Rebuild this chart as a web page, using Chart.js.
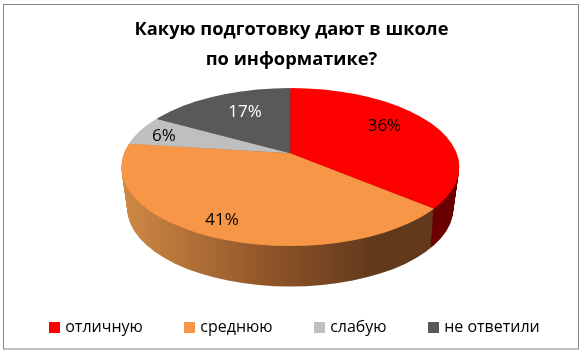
<!DOCTYPE html>
<html>
<head>
<meta charset="utf-8">
<script src="https://cdn.jsdelivr.net/npm/chart.js@4"></script>
<style>
  html, body { margin: 0; padding: 0; background: #fff; }
  #wrap { position: relative; width: 583px; height: 352px; }
</style>
</head>
<body>
<div id="wrap"><canvas id="pie" width="583" height="352"></canvas></div>
<script>
const categories = ['отличную', 'среднюю', 'слабую', 'не ответили'];
const values = [36, 41, 6, 17];
const sliceColors = ['#ff0000', '#f79646', '#bfbfbf', '#595959'];
const labelColors = ['#000000', '#000000', '#000000', '#ffffff'];
const titleLines = ['Какую подготовку дают в школе', 'по информатике?'];

// геометрия "3D" круга
const top3d = { cx: 290.3, cy: 167, rx: 169, ry: 79 };
const bottom3d = { cx: 290.3, cy: 208.5, rx: 163, ry: 78 };
const apexY = 153.3;
const squash = 0.467;
const depth = 40;
// подписи: расстояние от центра и сдвиг по вертикали
const labelDist = [104, 172, 133, 89];
const labelShift = [-6, -7, 2, -5.5];

function wallFill(ctx, index) {
  if (index === 0) return '#6b0000';
  const g = ctx.createLinearGradient(top3d.cx - top3d.rx, 0, top3d.cx + top3d.rx, 0);
  g.addColorStop(0, '#d08a45');
  g.addColorStop(0.4, '#95592b');
  g.addColorStop(0.75, '#63391c');
  g.addColorStop(1, '#63391c');
  return g;
}

function enterPie(ctx, arc, e, dy) {
  ctx.beginPath();
  ctx.ellipse(e.cx, e.cy, e.rx, e.ry, 0, 0, Math.PI * 2);
  ctx.clip();
  ctx.translate(top3d.cx - arc.x, apexY + dy - arc.y * squash);
  ctx.scale(1, squash);
}

// квадратик легенды; ширина pointStyleWidth меньше картинки, чтобы текст стоял ближе
function swatch(color) {
  const c = document.createElement('canvas');
  c.width = 11;
  c.height = 11;
  const g = c.getContext('2d');
  g.fillStyle = color;
  g.fillRect(0, 0, 11, 11);
  return c;
}

const pie3d = {
  id: 'pie3d',
  beforeDatasetDraw(chart) {
    const ctx = chart.ctx;
    const arcs = chart.getDatasetMeta(0).data;
    // боковая стенка: те же сегменты, сдвинутые вниз слоями
    for (let d = depth; d > 0; d--) {
      const t = d / depth;
      const e = {
        cx: top3d.cx,
        cy: top3d.cy + (bottom3d.cy - top3d.cy) * t,
        rx: top3d.rx + (bottom3d.rx - top3d.rx) * t,
        ry: top3d.ry + (bottom3d.ry - top3d.ry) * t
      };
      arcs.forEach((arc, i) => {
        const saved = arc.options.backgroundColor;
        ctx.save();
        enterPie(ctx, arc, e, d);
        arc.options.backgroundColor = wallFill(ctx, i);
        arc.draw(ctx);
        arc.options.backgroundColor = saved;
        ctx.restore();
      });
    }
    ctx.save();
    enterPie(ctx, arcs[0], top3d, 0);
  },
  afterDatasetDraw(chart) {
    chart.ctx.restore();
  }
};

const sliceLabels = {
  id: 'sliceLabels',
  afterDatasetsDraw(chart) {
    const ctx = chart.ctx;
    const arcs = chart.getDatasetMeta(0).data;
    ctx.save();
    ctx.font = '17px "Open Sans", sans-serif';
    ctx.textAlign = 'center';
    ctx.textBaseline = 'middle';
    arcs.forEach((arc, i) => {
      const mid = (arc.startAngle + arc.endAngle) / 2;
      ctx.fillStyle = labelColors[i];
      ctx.fillText(values[i] + '%',
        top3d.cx + Math.cos(mid) * labelDist[i],
        apexY + labelShift[i] + Math.sin(mid) * labelDist[i] * squash);
    });
    ctx.restore();
  }
};

const frame = {
  id: 'frame',
  beforeDraw(chart) {
    const ctx = chart.ctx;
    ctx.save();
    ctx.strokeStyle = '#868686';
    ctx.lineWidth = 1;
    ctx.strokeRect(3.5, 4.5, 575, 344.5);
    ctx.restore();
  },
  afterLayout(chart) {
    // легенда в оригинале чуть правее центра
    chart.legend.left += 4;
    chart.legend.right += 4;
  }
};

new Chart(document.getElementById('pie'), {
  type: 'pie',
  data: {
    labels: categories,
    datasets: [{
      data: values,
      backgroundColor: sliceColors,
      borderWidth: 0,
      radius: 240,
      clip: false
    }]
  },
  options: {
    responsive: false,
    animation: false,
    layout: { padding: { bottom: 7 } },
    plugins: {
      title: {
        display: true,
        text: titleLines,
        color: '#000',
        font: { family: '"Open Sans", sans-serif', size: 18.3, weight: 'bold', lineHeight: 1.62 },
        padding: { top: 15, bottom: 0 }
      },
      legend: {
        position: 'bottom',
        labels: {
          usePointStyle: true,
          pointStyleWidth: 6,
          boxHeight: 11,
          padding: 43.5,
          color: '#000',
          font: { family: '"Open Sans", sans-serif', size: 16 },
          generateLabels(chart) {
            return categories.map((text, i) => ({
              text,
              index: i,
              fillStyle: sliceColors[i],
              strokeStyle: sliceColors[i],
              lineWidth: 0,
              fontColor: '#000',
              pointStyle: swatch(sliceColors[i])
            }));
          }
        }
      },
      tooltip: { enabled: false }
    }
  },
  plugins: [frame, pie3d, sliceLabels]
});
</script>
</body>
</html>
